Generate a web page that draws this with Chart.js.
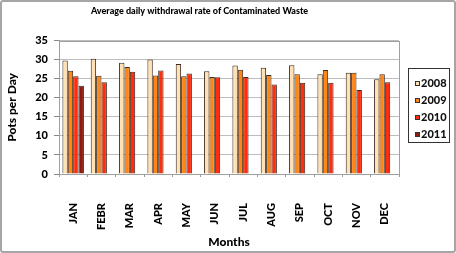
<!DOCTYPE html>
<html>
<head>
<meta charset="utf-8">
<script src="https://cdn.jsdelivr.net/npm/chart.js@4"></script>
<style>
  html, body { margin: 0; padding: 0; background: #fff; }
  #wrap { position: relative; width: 456px; height: 253px; }
  #frame { position: absolute; left: 0; top: 0; width: 456px; height: 253px; box-sizing: border-box;
           border: 2px solid #a6a6a6; border-radius: 3px; pointer-events: none; }
  #legend { position: absolute; left: 408px; top: 68px; width: 42px; height: 75px; box-sizing: border-box;
            border: 1px solid #333; font: 900 11px Lato, sans-serif; color: #111; padding-top: 6px; }
  #legend div { height: 17px; line-height: 15px; white-space: nowrap; padding-left: 6px; }
  #legend span { display: inline-block; width: 3px; height: 3px; border: 1px solid #333; margin-right: 1px; vertical-align: 1px; }
</style>
</head>
<body>
<div id="wrap">
  <canvas id="chart" width="456" height="253"></canvas>
  <div id="legend"></div>
  <div id="frame"></div>
</div>
<script>
const months = ['JAN', 'FEBR', 'MAR', 'APR', 'MAY', 'JUN', 'JUL', 'AUG', 'SEP', 'OCT', 'NOV', 'DEC'];
const y2008 = [29.8, 30.3, 29.2, 30.1, 28.9, 27.0, 28.5, 27.9, 28.6, 26.2, 26.6, 24.9];
const y2009 = [27.1, 25.8, 28.1, 25.9, 25.7, 25.5, 27.4, 26.0, 26.2, 27.3, 26.6, 26.2];
const y2010 = [25.7, 24.1, 26.9, 27.2, 26.4, 25.4, 25.5, 23.5, 24.0, 24.0, 22.1, 24.1];
const y2011 = [23.2, null, null, null, null, null, null, null, null, null, null, null];
const yearLabels = ['2008', '2009', '2010', '2011'];
const yearColors = ['#ffe1b3', '#ff8514', '#ff2d0d', '#8e1b12'];

const seriesData = [y2008, y2009, y2010, y2011];
const txtFont = 'Lato';
const txtWeight = '900';

// plot frame (right + top border) like the spreadsheet chart
const frameBox = {
    id: 'frameBox',
    afterDraw(chart) {
        const a = chart.chartArea;
        const c = chart.ctx;
        c.save();
        c.strokeStyle = '#a0a0a0';
        c.lineWidth = 1;
        c.strokeRect(Math.round(a.left) + 0.5, Math.round(a.top) + 0.5, Math.round(a.right - a.left), Math.round(a.bottom - a.top));
        c.restore();
    }
};

const ctx = document.getElementById('chart').getContext('2d');
const chart = new Chart(ctx, {
    type: 'bar',
    data: {
        labels: months,
        datasets: seriesData.map((d, i) => ({
            label: yearLabels[i],
            data: d,
            backgroundColor: yearColors[i],
            borderColor: '#3a2a22',
            borderWidth: 1,
            borderSkipped: 'bottom',
            categoryPercentage: 0.76,
            barPercentage: 1.0
        }))
    },
    options: {
        responsive: false,
        animation: false,
        layout: { padding: { left: 0, right: 57, top: 0, bottom: 0 } },
        plugins: {
            legend: { display: false },
            tooltip: { enabled: false },
            title: {
                display: true,
                text: 'Average daily withdrawal rate of Contaminated Waste',
                color: '#000',
                font: { family: txtFont, size: 9, weight: txtWeight },
                padding: { top: 6, bottom: 24 }
            }
        },
        scales: {
            x: {
                grid: { display: true, drawOnChartArea: false, tickLength: 3, color: '#999', offset: true },
                border: { color: '#999' },
                ticks: {
                    autoSkip: false,
                    minRotation: 90,
                    maxRotation: 90,
                    padding: 26,
                    color: '#000',
                    font: { family: txtFont, size: 11, weight: txtWeight }
                },
                title: {
                    display: true,
                    text: 'Months',
                    color: '#000',
                    font: { family: txtFont, size: 12, weight: txtWeight },
                    padding: { top: 0, bottom: 4 }
                },
                afterFit: function (s) { s.height = 79; }
            },
            y: {
                min: 0,
                max: 35,
                ticks: {
                    stepSize: 5,
                    padding: 6,
                    color: '#000',
                    font: { family: txtFont, size: 11, weight: txtWeight }
                },
                grid: { color: '#bdbdbd', tickLength: 5, tickColor: '#888' },
                border: { color: '#999' },
                title: {
                    display: true,
                    text: 'Pots per Day',
                    color: '#000',
                    font: { family: txtFont, size: 12, weight: txtWeight },
                    padding: { top: 5, bottom: 0 }
                },
                afterFit: function (s) { s.width = 59; }
            }
        }
    },
    plugins: [frameBox]
});

// HTML legend with a box around it
const legendEl = document.getElementById('legend');
yearLabels.forEach((lab, i) => {
    const row = document.createElement('div');
    row.innerHTML = '<span style="background:' + yearColors[i] + '"></span>' + lab;
    legendEl.appendChild(row);
});
</script>
</body>
</html>
